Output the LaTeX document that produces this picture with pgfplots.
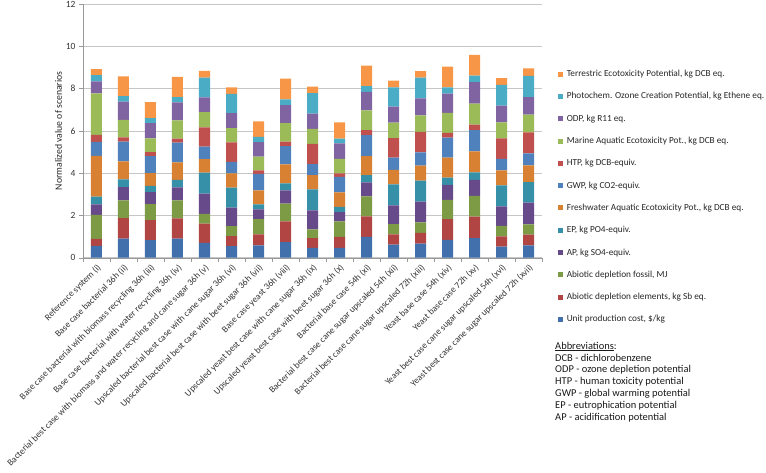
\documentclass[border=0pt]{standalone}
\usepackage{pgfplots}
\pgfplotsset{compat=1.18}
\usepackage{pgfplotstable}
\usepackage{fontspec}
\setmainfont{Carlito}
\definecolor{sA}{HTML}{4170AD}
\definecolor{sB}{HTML}{B04543}
\definecolor{sC}{HTML}{7D9A45}
\definecolor{sD}{HTML}{664A8A}
\definecolor{sE}{HTML}{3590A8}
\definecolor{sF}{HTML}{D98132}
\definecolor{sG}{HTML}{4F81BD}
\definecolor{sH}{HTML}{C0504D}
\definecolor{sI}{HTML}{9BBB59}
\definecolor{sJ}{HTML}{8064A2}
\definecolor{sK}{HTML}{4BACC6}
\definecolor{sL}{HTML}{F79646}
\pgfplotstableread{
x c1 c2 c3 c4 c5 c6 c7 c8 c9 c10 c11 c12
0 0.56 0.33 1.13 0.50 0.37 1.93 0.66 0.33 1.96 0.57 0.30 0.28
1 0.90 0.97 0.84 0.63 0.36 0.86 0.93 0.20 0.83 0.86 0.26 0.94
2 0.83 0.95 0.75 0.57 0.30 0.60 0.80 0.19 0.66 0.72 0.23 0.76
3 0.90 0.96 0.85 0.62 0.35 0.83 0.93 0.19 0.87 0.85 0.25 0.95
4 0.70 0.91 0.46 0.96 0.99 0.64 0.59 0.91 0.72 0.70 0.94 0.32
5 0.55 0.47 0.47 0.88 0.95 0.67 0.54 0.92 0.68 0.71 0.91 0.31
6 0.58 0.52 0.73 0.46 0.23 0.67 0.77 0.17 0.65 0.69 0.24 0.74
7 0.74 0.98 0.84 0.63 0.33 0.90 0.86 0.21 0.88 0.85 0.27 0.98
8 0.46 0.47 0.41 0.90 0.99 0.68 0.52 0.95 0.71 0.72 0.97 0.31
9 0.46 0.52 0.74 0.44 0.25 0.68 0.73 0.17 0.68 0.74 0.22 0.77
10 0.99 0.97 0.94 0.66 0.35 0.90 0.99 0.24 0.93 0.87 0.28 0.97
11 0.62 0.48 0.49 0.89 0.99 0.69 0.57 0.93 0.73 0.75 0.92 0.32
12 0.66 0.52 0.49 0.98 0.99 0.71 0.63 0.97 0.78 0.81 0.98 0.31
13 0.84 0.99 0.91 0.70 0.35 0.94 0.95 0.22 0.95 0.91 0.30 0.98
14 0.93 1.01 0.99 0.75 0.36 0.99 1.00 0.26 1.00 1.01 0.31 0.98
15 0.52 0.49 0.49 0.93 0.99 0.71 0.55 0.97 0.75 0.79 0.98 0.32
16 0.58 0.51 0.49 1.02 0.98 0.79 0.57 0.99 0.84 0.83 1.00 0.36
}\data
\begin{document}
\begin{tikzpicture}
\begin{axis}[
  scale only axis,
  width=459bp, height=253.7bp,
  ybar stacked, bar width=11bp,
  xmin=-0.5, xmax=16.5, ymin=0, ymax=12,
  ytick={0,2,...,12},
  xtick=data,
  xticklabels={Reference system (i),Base case bacterial 36h (ii),Base case bacterial with biomass recycling 36h (iii),Base case bacterial with water recycling 36h (iv),Bacterial best case with biomass and water recycling and cane sugar 36h (v),Upscaled bacterial best case with cane sugar 36h (vi),Upscaled bacterial best case with beet sugar 36h (vii),Base case yeast 36h (viii),Upscaled yeast best case with cane sugar 36h (ix),Upscaled yeast best case with beet sugar 36h (x),Bacterial base case 54h (xi),Bacterial best case cane sugar upscaled 54h (xii),Bacterial best case cane sugar upscaled 72h (xiii),Yeast base case 54h (xiv),Yeast base case 72h (xv),Yeast best case cane sugar upscaled 54h (xvi),Yeast best case cane sugar upscaled 72h (xvii)},
  major x tick style={draw=none},
  minor xtick={-0.5,0.5,...,16.5},
  minor x tick style={draw=gray!80},
  minor tick length=4bp,
  tick align=outside,
  major y tick style={draw=gray!80},
  major tick length=4bp,
  axis x line*=bottom, axis y line*=left,
  axis line style={draw=gray!80, -},
  ymajorgrids, grid style={draw=gray!45, line width=0.6pt},
  xticklabel style={rotate=45, anchor=north east, inner sep=1pt, font=\fontsize{9.2}{11}\selectfont, text=black!80},
  yticklabel style={font=\fontsize{9.5}{11}\selectfont, text=black!80},
  /pgf/number format/assume math mode=true,
  ylabel={Normalized value of scenarios},
  ylabel style={font=\fontsize{9.8}{11}\selectfont, text=black!85},
  ylabel shift=-3bp,
  reverse legend,
  legend cell align=left,
  legend style={at={(1.035,0.748)}, anchor=north west, draw=none, fill=none,
    font=\fontsize{9.3}{11}\selectfont, text=black!85,
    row sep=10.4bp, inner sep=0pt,
    /tikz/every odd column/.append style={column sep=1.5bp}},
  legend image code/.code={\fill[#1,draw=none] (0bp,-2.5bp) rectangle (5bp,2.5bp);},
]
\addplot[fill=sA,draw=none] table[x=x,y=c1]{\data};
\addplot[fill=sB,draw=none] table[x=x,y=c2]{\data};
\addplot[fill=sC,draw=none] table[x=x,y=c3]{\data};
\addplot[fill=sD,draw=none] table[x=x,y=c4]{\data};
\addplot[fill=sE,draw=none] table[x=x,y=c5]{\data};
\addplot[fill=sF,draw=none] table[x=x,y=c6]{\data};
\addplot[fill=sG,draw=none] table[x=x,y=c7]{\data};
\addplot[fill=sH,draw=none] table[x=x,y=c8]{\data};
\addplot[fill=sI,draw=none] table[x=x,y=c9]{\data};
\addplot[fill=sJ,draw=none] table[x=x,y=c10]{\data};
\addplot[fill=sK,draw=none] table[x=x,y=c11]{\data};
\addplot[fill=sL,draw=none] table[x=x,y=c12]{\data};
\legend{{Unit production cost, \$/kg},{Abiotic depletion elements, kg Sb eq.},{Abiotic depletion fossil, MJ},{AP, kg SO4-equiv.},{EP, kg PO4-equiv.},{Freshwater Aquatic Ecotoxicity Pot., kg DCB eq.},{GWP, kg CO2-equiv.},{HTP, kg DCB-equiv.},{Marine Aquatic Ecotoxicity Pot., kg DCB eq.},{ODP, kg R11 eq.},{Photochem. Ozone Creation Potential, kg Ethene eq.},{Terrestric Ecotoxicity Potential, kg DCB eq.}}
\coordinate (ll) at (rel axis cs:0,0);
\coordinate (ur) at (rel axis cs:1,1);
\end{axis}
\node[anchor=north west, align=left, inner sep=0pt, font=\fontsize{10.5}{11.9}\selectfont, text=black!90] at ([xshift=472bp,yshift=-84bp]ll)
  {\underline{Abbreviations}:\\DCB - dichlorobenzene\\ODP - ozone depletion potential\\HTP - human toxicity potential\\GWP - global warming potential\\EP - eutrophication potential\\AP - acidification potential};
\pgfresetboundingbox
\path ([xshift=-83bp,yshift=-215.3bp]ll) rectangle ([xshift=224bp,yshift=4bp]ur);
\end{tikzpicture}
\end{document}
